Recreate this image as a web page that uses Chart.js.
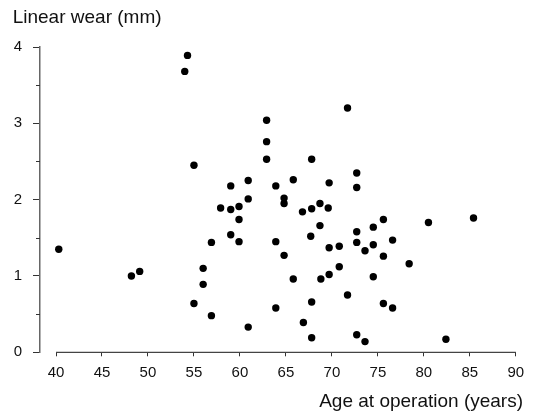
<!DOCTYPE html>
<html>
<head>
<meta charset="utf-8">
<script src="https://cdn.jsdelivr.net/npm/chart.js@4.4.1/dist/chart.umd.min.js"></script>
<style>
  html, body { margin: 0; padding: 0; background: #fff; }
  #wrap { width: 533px; height: 418px; position: relative; }
</style>
</head>
<body>
<div id="wrap"><canvas id="c"></canvas></div>
<script>
// Age at operation (years)
const ages = [40.3,48.2,49.1,54.3,54.0,55.0,62.9,62.9,62.9,67.8,
              71.7,59.0,60.9,63.9,65.8,69.7,60.9,64.8,64.8,57.9,
              59.0,59.9,59.9,66.8,67.8,68.7,69.6,68.7,59.0,59.9,
              56.9,63.9,67.7,64.8,69.7,70.8,56.0,56.0,70.8,65.8,
              68.8,69.7,55.0,56.9,60.9,63.9,67.8,66.9,67.8,71.7,
              72.7,72.7,75.6,80.5,85.4,74.5,72.7,72.7,74.5,73.6,
              76.6,75.6,78.4,74.5,75.6,76.6,72.7,73.6,82.4];
// Linear wear (mm)
const wear = [1.35,1.00,1.06,3.89,3.68,2.45,3.04,2.76,2.53,2.53,
              3.20,2.18,2.25,2.18,2.26,2.22,2.01,2.02,1.95,1.89,
              1.87,1.91,1.74,1.84,1.88,1.95,1.89,1.66,1.54,1.45,
              1.44,1.45,1.52,1.27,1.37,1.39,1.10,0.89,1.12,0.96,
              0.96,1.02,0.64,0.48,0.33,0.58,0.66,0.39,0.19,0.75,
              2.35,2.16,1.74,1.70,1.76,1.64,1.58,1.44,1.41,1.33,
              1.47,1.26,1.16,0.99,0.64,0.58,0.23,0.14,0.17];
const xTicks = [40,45,50,55,60,65,70,75,80,85,90];
const yTicks = [0,1,2,3,4];
const yMinorTicks = [0.5,1.5,2.5,3.5];
const yTitle = 'Linear wear (mm)';
const xTitle = 'Age at operation (years)';

const points = ages.map((a, i) => ({ x: a, y: wear[i] }));

Chart.defaults.font.family = '"Liberation Sans", Arial, Helvetica, sans-serif';
Chart.defaults.color = '#111';

const axisPlugin = {
  id: 'axisExtras',
  beforeDatasetsDraw(chart) {
    const ctx = chart.ctx;
    const xs = chart.scales.x, ys = chart.scales.y;
    const yb = chart.chartArea.bottom;
    ctx.save();
    // x axis line from first to last tick
    ctx.strokeStyle = '#444';
    ctx.lineWidth = 1.2;
    ctx.beginPath();
    ctx.moveTo(xs.getPixelForValue(xTicks[0]), yb);
    ctx.lineTo(xs.getPixelForValue(xTicks[xTicks.length - 1]), yb);
    ctx.stroke();
    // y minor ticks
    ctx.strokeStyle = '#333';
    ctx.lineWidth = 1;
    const xl = chart.chartArea.left;
    yMinorTicks.forEach(v => {
      const py = Math.round(ys.getPixelForValue(v)) + 0.5;
      ctx.beginPath();
      ctx.moveTo(xl - 4, py);
      ctx.lineTo(xl, py);
      ctx.stroke();
    });
    ctx.restore();
  }
};

new Chart(document.getElementById('c'), {
  type: 'scatter',
  data: {
    datasets: [{
      data: points,
      pointRadius: 3.7,
      pointHoverRadius: 3.7,
      backgroundColor: '#000',
      borderWidth: 0
    }]
  },
  options: {
    responsive: true,
    maintainAspectRatio: false,
    animation: false,
    layout: { padding: { left: 12.7, right: 10, top: 0, bottom: 0 } },
    plugins: {
      legend: { display: false },
      tooltip: { enabled: false },
      title: {
        display: true,
        text: yTitle,
        align: 'start',
        color: '#111',
        font: { size: 19, weight: 'normal' },
        padding: { top: 6.6, bottom: 17.6 }
      },
      subtitle: {
        display: true,
        position: 'bottom',
        text: xTitle,
        align: 'end',
        color: '#111',
        font: { size: 19, weight: 'normal' },
        padding: { top: 8.3, bottom: 4.6 }
      }
    },
    scales: {
      x: {
        type: 'linear',
        min: 38.26,
        max: 90.78,
        afterBuildTicks(scale) { scale.ticks = xTicks.map(v => ({ value: v })); },
        afterFit(scale) { scale.height = 30; },
        ticks: { font: { size: 15 }, color: '#111', padding: 8, maxRotation: 0, autoSkip: false },
        grid: { drawOnChartArea: false, drawTicks: true, tickLength: 4, color: '#333', lineWidth: 1 },
        border: { display: false }
      },
      y: {
        min: 0,
        max: 4,
        afterBuildTicks(scale) { scale.ticks = yTicks.map(v => ({ value: v })); },
        afterFit(scale) { scale.width = 27.3; },
        ticks: { font: { size: 15 }, color: '#111', padding: 11 },
        grid: { drawOnChartArea: false, drawTicks: true, tickLength: 7, color: '#333', lineWidth: 1 },
        border: { display: true, color: '#666', width: 1.5 }
      }
    }
  },
  plugins: [axisPlugin]
});
</script>
</body>
</html>
